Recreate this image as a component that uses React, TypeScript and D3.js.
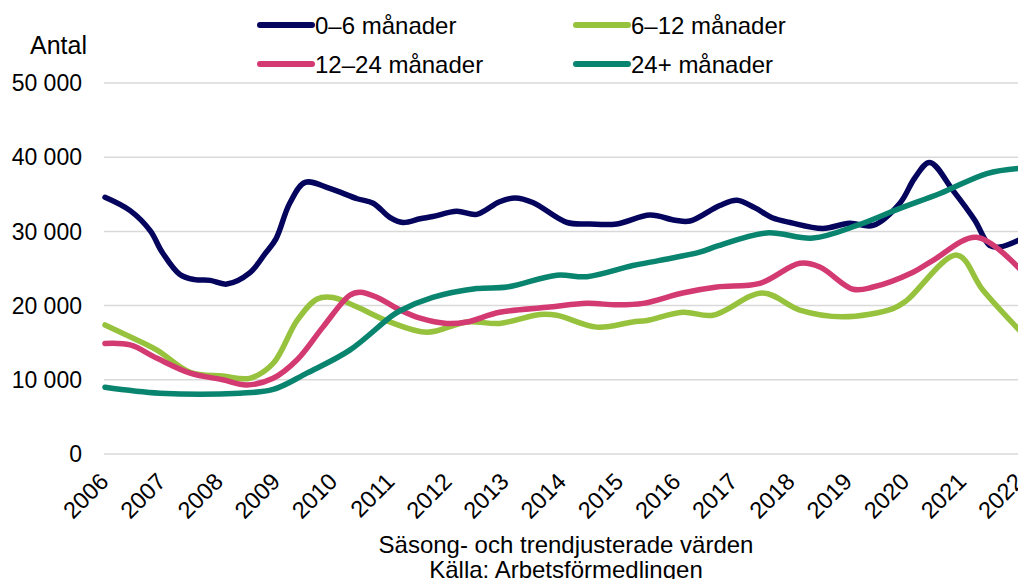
import React from "react";
import * as d3 from "d3";

const years = d3.range(2006, 2023);
const yTicks = [0, 10000, 20000, 30000, 40000, 50000];

const seriesNames = ["0–6 månader", "6–12 månader", "12–24 månader", "24+ månader"];
const seriesColors = ["#05055e", "#97c23d", "#d43a72", "#08846f"];

// [decimal year, value]
const s0_6: [number, number][] = [
  [2006.0, 34600], [2006.44, 32800], [2006.79, 30100], [2007.0, 27200], [2007.31, 24200],
  [2007.57, 23500], [2007.84, 23400], [2008.13, 22900], [2008.53, 24400], [2008.8, 27000],
  [2008.99, 29000], [2009.23, 33800], [2009.5, 36600], [2009.93, 35800], [2010.41, 34400],
  [2010.69, 33800], [2010.98, 31900], [2011.21, 31200], [2011.51, 31700], [2011.73, 32000],
  [2012.15, 32700], [2012.5, 32300], [2012.9, 34000], [2013.17, 34500], [2013.48, 33900],
  [2014.08, 31200], [2014.48, 31000], [2014.95, 31000], [2015.53, 32200], [2015.97, 31500],
  [2016.23, 31400], [2016.75, 33500], [2017.05, 34200], [2017.36, 33200], [2017.68, 31800],
  [2017.98, 31200], [2018.55, 30400], [2019.02, 31100], [2019.43, 30800], [2019.9, 33800],
  [2020.16, 37200], [2020.42, 39300], [2020.83, 35500], [2021.21, 31500], [2021.47, 28100],
  [2021.65, 27900], [2022.0, 28900],
];

const s6_12: [number, number][] = [
  [2006.0, 17400], [2006.44, 15800], [2006.91, 14000], [2007.49, 11000], [2008.06, 10500],
  [2008.53, 10200], [2008.94, 12200], [2009.36, 18000], [2009.71, 20900], [2009.99, 21100],
  [2010.41, 19800], [2010.98, 17800], [2011.63, 16400], [2012.33, 17800], [2012.9, 17600],
  [2013.6, 18800], [2013.9, 18700], [2014.6, 17100], [2015.23, 17800], [2015.48, 18000],
  [2016.1, 19100], [2016.63, 18700], [2017.5, 21700], [2018.15, 19400], [2018.9, 18500],
  [2019.78, 19600], [2020.02, 20700], [2020.9, 26800], [2021.35, 22100], [2022.0, 16600],
];

const s12_24: [number, number][] = [
  [2006.0, 14900], [2006.44, 14700], [2006.91, 12900], [2007.49, 10900], [2008.06, 10000],
  [2008.48, 9300], [2008.94, 10200], [2009.36, 12700], [2009.81, 17100], [2010.28, 21400],
  [2010.46, 21800], [2010.76, 21100], [2011.16, 19400], [2011.51, 18300], [2011.98, 17600],
  [2012.33, 17800], [2012.9, 19100], [2013.78, 19800], [2014.43, 20300], [2014.95, 20100],
  [2015.41, 20300], [2016.1, 21700], [2016.7, 22500], [2017.45, 23000], [2018.15, 25700],
  [2018.5, 25200], [2019.08, 22200], [2019.43, 22500], [2020.13, 24500], [2020.48, 26100],
  [2021.24, 29200], [2022.0, 24900],
];

const s24p: [number, number][] = [
  [2006.0, 9000], [2006.96, 8200], [2008.36, 8200], [2008.94, 8700], [2009.53, 10900],
  [2010.28, 14000], [2010.98, 18400], [2011.16, 19300], [2011.73, 21100], [2012.5, 22300],
  [2013.03, 22500], [2013.9, 24100], [2014.43, 23900], [2015.23, 25400], [2015.7, 26100],
  [2016.4, 27200], [2016.7, 28000], [2017.57, 29800], [2018.38, 29100], [2019.15, 30800],
  [2019.9, 33100], [2020.6, 35100], [2021.42, 37800], [2022.0, 38500],
];

const allSeries = [s0_6, s6_12, s12_24, s24p];

const W = 1018;
const H = 579;
const FONT = "'Liberation Sans', Arial, sans-serif";

export default function App() {
  const x = d3.scaleLinear().domain([2006, 2022]).range([105, 1020]);
  const y = d3.scaleLinear().domain([0, 50000]).range([454, 83]);
  const line = d3
    .line<[number, number]>()
    .x((d) => x(d[0]))
    .y((d) => y(d[1]))
    .curve(d3.curveCatmullRom.alpha(0.5));
  const fmt = (v: number) => (v === 0 ? "0" : d3.format(",")(v).replace(/,/g, " "));

  const legend = [
    { i: 0, x: 260, y: 25 },
    { i: 1, x: 576, y: 25 },
    { i: 2, x: 260, y: 64 },
    { i: 3, x: 576, y: 64 },
  ];

  return (
    <svg
      width={W}
      height={H}
      style={{ position: "absolute", left: 0, top: 0, background: "#fff" }}
      fontFamily={FONT}
    >
      {yTicks.map((t) => (
        <g key={t}>
          <line x1={104} x2={W} y1={y(t)} y2={y(t)} stroke="#d9d9d9" strokeWidth={1.5} />
          <text x={82} y={y(t)} dy="0.36em" textAnchor="end" fontSize={23} fill="#000">
            {fmt(t)}
          </text>
        </g>
      ))}
      <text x={30} y={54} fontSize={25} fill="#000">Antal</text>
      {allSeries.map((s, i) => (
        <path
          key={i}
          d={line(s) || ""}
          fill="none"
          stroke={seriesColors[i]}
          strokeWidth={5.5}
          strokeLinejoin="round"
          strokeLinecap="round"
        />
      ))}
      {years.map((yr) => (
        <text
          key={yr}
          transform={`translate(${x(yr) + 5},${483}) rotate(-45)`}
          textAnchor="end"
          fontSize={23.5}
          fill="#000"
        >
          {yr}
        </text>
      ))}
      {legend.map((l) => (
        <g key={l.i}>
          <line
            x1={l.x}
            x2={l.x + 52}
            y1={l.y}
            y2={l.y}
            stroke={seriesColors[l.i]}
            strokeWidth={6}
            strokeLinecap="round"
          />
          <text x={l.x + 55} y={l.y} dy="0.36em" fontSize={24} fill="#000">
            {seriesNames[l.i]}
          </text>
        </g>
      ))}
      <text x={566} y={553} textAnchor="middle" fontSize={24} fill="#000">
        Säsong- och trendjusterade värden
      </text>
      <text x={566} y={578} textAnchor="middle" fontSize={24} fill="#000">
        Källa: Arbetsförmedlingen
      </text>
    </svg>
  );
}
